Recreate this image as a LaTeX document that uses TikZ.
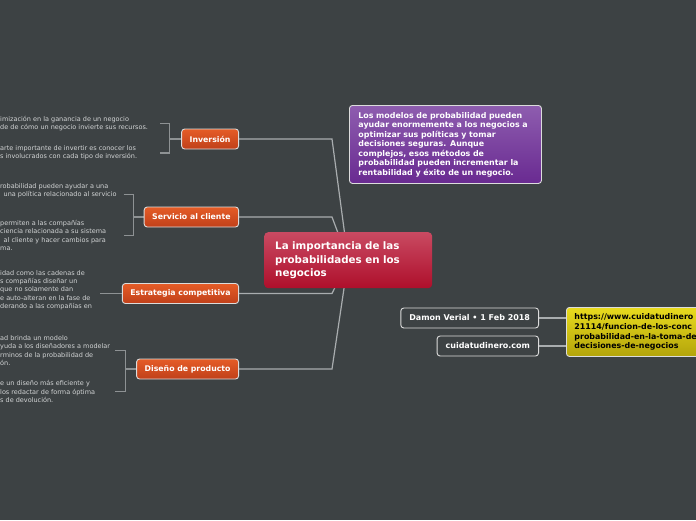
\documentclass[tikz,border=0pt]{standalone}
\usepackage{fontspec}
\setmainfont{DejaVu Sans}
\usepackage{xcolor}
\usepackage{tikz}
\usetikzlibrary{positioning}
\definecolor{mapbg}{HTML}{3D4244}
\definecolor{maplink}{HTML}{A9ADAF}
\definecolor{maptwig}{HTML}{8E9294}
\definecolor{mapleaf}{HTML}{D2D4D5}
\definecolor{rootTop}{HTML}{C94A62}
\definecolor{rootBot}{HTML}{AE0F2B}
\definecolor{branchTop}{HTML}{E55C27}
\definecolor{branchBot}{HTML}{C0401A}
\definecolor{noteTop}{HTML}{8E5DAF}
\definecolor{noteBot}{HTML}{692A91}
\definecolor{urlTop}{HTML}{E9DB1E}
\definecolor{urlBot}{HTML}{B3A40B}
\definecolor{rim}{HTML}{DCDCDC}
\pgfdeclarelayer{canvas}
\pgfdeclarelayer{links}
\pgfsetlayers{canvas,links,main}

\begin{document}
\begin{tikzpicture}[
  x=1pt, y=-1pt,
  root/.style={top color=rootTop, bottom color=rootBot, rounded corners=4pt, text=white, font=\fontsize{10.3}{13.6}\selectfont\bfseries, align=left, text width=146pt, inner xsep=11pt, minimum height=56pt, anchor=north west},
  branch/.style={draw=rim, line width=0.9pt, top color=branchTop, bottom color=branchBot, rounded corners=3pt, text=white, font=\fontsize{7.8}{9.4}\selectfont\bfseries, inner xsep=8pt, minimum height=20pt, anchor=east},
  note/.style={draw=rim, line width=0.9pt, top color=noteTop, bottom color=noteBot, rounded corners=3pt, text=white, font=\fontsize{7.9}{9.5}\selectfont\bfseries, align=left, text width=174pt, inner xsep=9pt, minimum height=78pt, anchor=north west},
  weblink/.style={draw=rim, line width=0.9pt, top color=urlTop, bottom color=urlBot, rounded corners=3pt, text=black, font=\fontsize{7.9}{9.8}\selectfont\bfseries, align=left, text width=300pt, inner xsep=8pt, minimum height=49pt, anchor=north west},
  source/.style={draw=rim, line width=0.9pt, fill=mapbg, rounded corners=3pt, text=white, font=\fontsize{8}{9.6}\selectfont\bfseries, inner xsep=8.5pt, minimum height=20pt, anchor=east},
  link/.style={draw=maplink, line width=1.2pt},
  twig/.style={draw=maptwig, line width=1.1pt},
  leaf/.style={text=mapleaf, font=\fontsize{6.5}{8.3}\selectfont, align=left, inner sep=0pt, anchor=west}
]
\useasboundingbox (0,0) rectangle (696,520);
\begin{pgfonlayer}{canvas}
\fill[mapbg] (0,0) rectangle (696,520);
\end{pgfonlayer}

\node[root] (ctr) at (264,232) {La importancia de las\\probabilidades en los\\negocios};
\node[note] (idea) at (349,105) {Los modelos de probabilidad pueden\\ayudar enormemente a los negocios a\\optimizar sus políticas y tomar\\decisiones seguras. Aunque\\complejos, esos métodos de\\probabilidad pueden incrementar la\\rentabilidad y éxito de un negocio.};

\node[branch] (inv) at (239,139) {Inversión};
\node[branch] (srv) at (239,217) {Servicio al cliente};
\node[branch] (strat) at (239,293.5) {Estrategia competitiva};
\node[branch] (dis) at (239,369) {Diseño de producto};

\node[leaf] (invA) at (0,123.5) {imización en la ganancia de un negocio\\de de cómo un negocio invierte sus recursos.};
\node[leaf] (invB) at (0,153) {arte importante de invertir es conocer los\\s involucrados con cada tipo de inversión.};
\node[leaf] (srvA) at (0,194.5) {robabilidad pueden ayudar a una\\\hspace*{3.5pt}una política relacionado al servicio\\\mbox{}};
\node[leaf] (srvB) at (0,235.5) {permiten a las compañías\\ciencia relacionada a su sistema\\\hspace*{3.5pt}al cliente y hacer cambios para\\ma.};
\node[leaf] (stratA) at (0,293.5) {idad como las cadenas de\\s compañías diseñar un\\que no solamente dan\\e auto-alteran en la fase de\\derando a las compañías en\\\mbox{}};
\node[leaf] (disA) at (0,350.5) {ad brinda un modelo\\yuda a los diseñadores a modelar\\rminos de la probabilidad de\\ón.};
\node[leaf] (disB) at (0,391.5) {e un diseño más eficiente y\\los redactar de forma óptima\\s de devolución.};

\node[source] (src) at (539,318) {Damon Verial • 1 Feb 2018};
\node[source] (site) at (539,346) {cuidatudinero.com};
\node[weblink] (url) at (566,307) {https://www.cuidatudinero\\21114/funcion-de-los-conc\\probabilidad-en-la-toma-de\\decisiones-de-negocios};

\begin{pgfonlayer}{links}
\draw[link] (ctr.center) -- ([xshift=93pt]inv.east) -- (inv.east);
\draw[link] (ctr.center) -- ([xshift=93pt]srv.east) -- (srv.east);
\draw[link] (ctr.center) -- ([xshift=93pt]strat.east) -- (strat.east);
\draw[link] (ctr.center) -- ([xshift=93pt]dis.east) -- (dis.east);
\draw[link] (src.east) -- (src.east -| url.west);
\draw[link] (site.east) -- (site.east -| url.west);

\draw[twig] (inv.west) -- ++(-12pt,0) coordinate (kinv);
\draw[twig] (kinv |- invA) ++(-9pt,0) -- (kinv |- invA) -- (kinv |- invB) -- ++(-9pt,0);
\draw[twig] (srv.west) -- ++(-10pt,0) coordinate (ksrv);
\draw[twig] (ksrv |- srvA) ++(-10pt,0) -- (ksrv |- srvA) -- (ksrv |- srvB) -- ++(-10pt,0);
\draw[twig] (strat.west) -- ++(-22pt,0);
\draw[twig] (dis.west) -- ++(-11pt,0) coordinate (kdis);
\draw[twig] (kdis |- disA) ++(-10pt,0) -- (kdis |- disA) -- (kdis |- disB) -- ++(-10pt,0);
\end{pgfonlayer}
\end{tikzpicture}
\end{document}
